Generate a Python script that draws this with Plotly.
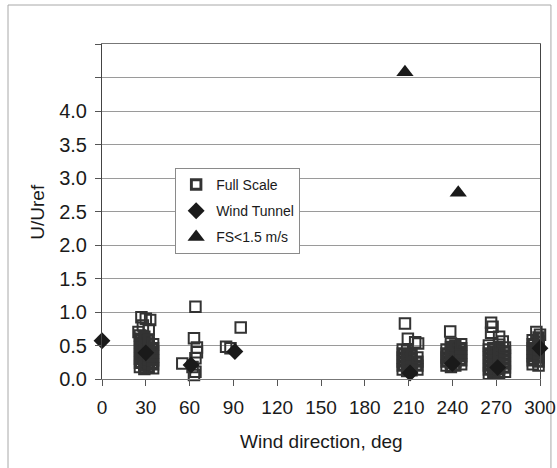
import plotly.graph_objects as go

# ---------------- data ----------------
# Full Scale measurements (wind direction, U/Uref)
fs_dir = [
    # ~30 deg (upper points)
    27, 30, 33, 28, 32, 25,
    # ~30 deg
    26, 26, 26, 26, 26, 26, 26, 26, 26,
    29, 29, 29, 29, 29, 29, 29, 29, 29,
    32, 32, 32, 32, 32, 32, 32, 32,
    35, 35, 35, 35, 35, 35, 35,
    # ~60 deg
    64, 63, 65, 65, 64, 62, 55, 64, 63,
    # ~90 deg
    85, 88, 95,
    # ~210 deg
    206, 206, 206, 206, 206, 206,
    209, 209, 209, 209, 209, 209,
    212, 212, 212, 212, 212,
    216, 216, 216, 216,
    207.5, 209.5, 214.5, 216.5,
    # ~240 deg
    236, 236, 236, 236, 236,
    239, 239, 239, 239, 239, 239, 239,
    242, 242, 242, 242, 242, 242,
    246, 246, 246, 246, 246, 246,
    238.5,
    # ~270 deg
    265, 265, 265, 265, 265, 265, 265, 265,
    268, 268, 268, 268, 268, 268, 268,
    272, 272, 272, 272, 272, 272, 272, 272,
    276, 276, 276, 276, 276, 276, 276,
    266.5, 267.5, 266.5, 272, 274.5,
    # ~300 deg
    295, 295, 295, 295, 295, 295, 295,
    299, 299, 299, 299, 299, 299, 299, 299,
    302, 302, 302, 302, 302, 302, 302,
    297.5, 300,
]
fs_u = [
    # ~30 deg (upper points)
    0.92, 0.90, 0.88, 0.80, 0.74, 0.70,
    # ~30 deg
    0.18, 0.24, 0.30, 0.36, 0.42, 0.48, 0.54, 0.60, 0.65,
    0.15, 0.21, 0.27, 0.33, 0.39, 0.45, 0.51, 0.57, 0.63,
    0.17, 0.23, 0.29, 0.35, 0.41, 0.47, 0.53, 0.59,
    0.16, 0.22, 0.28, 0.34, 0.40, 0.46, 0.52,
    # ~60 deg
    1.08, 0.61, 0.47, 0.40, 0.31, 0.18, 0.23, 0.11, 0.06,
    # ~90 deg
    0.48, 0.46, 0.77,
    # ~210 deg
    0.14, 0.20, 0.26, 0.32, 0.38, 0.44,
    0.12, 0.18, 0.24, 0.30, 0.36, 0.42,
    0.13, 0.19, 0.25, 0.31, 0.37,
    0.14, 0.20, 0.26, 0.32,
    0.83, 0.60, 0.55, 0.53,
    # ~240 deg
    0.20, 0.26, 0.32, 0.38, 0.44,
    0.18, 0.24, 0.30, 0.36, 0.42, 0.48, 0.53,
    0.20, 0.26, 0.32, 0.38, 0.44, 0.50,
    0.22, 0.28, 0.34, 0.40, 0.46, 0.52,
    0.71,
    # ~270 deg
    0.08, 0.14, 0.20, 0.26, 0.32, 0.38, 0.44, 0.50,
    0.10, 0.16, 0.22, 0.28, 0.34, 0.40, 0.46,
    0.09, 0.15, 0.21, 0.27, 0.33, 0.39, 0.45, 0.51,
    0.11, 0.17, 0.23, 0.29, 0.35, 0.41, 0.47,
    0.84, 0.78, 0.69, 0.63, 0.56,
    # ~300 deg
    0.22, 0.28, 0.34, 0.40, 0.46, 0.52, 0.58,
    0.20, 0.26, 0.32, 0.38, 0.44, 0.50, 0.56, 0.62,
    0.24, 0.30, 0.36, 0.42, 0.48, 0.54, 0.60,
    0.70, 0.66,
]

# Wind tunnel results
wt_dir = [0, 30, 61, 91, 211, 240, 271, 300]
wt_u = [0.57, 0.39, 0.21, 0.41, 0.09, 0.23, 0.17, 0.46]

# Full scale, wind speed < 1.5 m/s
low_dir = [207.5, 244]
low_u = [4.58, 2.78]

x_ticks = [0, 30, 60, 90, 120, 150, 180, 210, 240, 270, 300]
y_ticks = [0.0, 0.5, 1.0, 1.5, 2.0, 2.5, 3.0, 3.5, 4.0, 4.5, 5.0]
y_tick_text = ["0.0", "0.5", "1.0", "1.5", "2.0", "2.5", "3.0", "3.5", "4.0", "", ""]

x_title = "Wind direction, deg"
y_title = "U/Uref"

# ---------------- figure ----------------
FONT = "Liberation Sans, Arial, sans-serif"
INK = "#1a1a1a"

# overlapping open squares in crowded groups print as heavier marks
crowd = [sum(1 for x2, y2 in zip(fs_dir, fs_u) if abs(x2 - x) <= 4 and abs(y2 - y) <= 0.09)
         for x, y in zip(fs_dir, fs_u)]
sq_lw = [3.4 if n >= 6 else 2.0 for n in crowd]
sq_size = [9.0 if n >= 6 else 10.5 for n in crowd]

fig = go.Figure()
fig.add_trace(go.Scatter(
    x=fs_dir, y=fs_u, mode="markers", name="Full Scale",
    legendgroup="a",
    marker=dict(symbol="square-open", size=sq_size, color="#333333", opacity=1,
                line=dict(width=sq_lw, color="#333333")),
    cliponaxis=False,
))
fig.add_trace(go.Scatter(
    x=wt_dir, y=wt_u, mode="markers", name="Wind Tunnel",
    legendgroup="b",
    marker=dict(symbol="diamond", size=13, color="#1a1a1a", opacity=1),
    cliponaxis=False,
))
fig.add_trace(go.Scatter(
    x=low_dir, y=low_u, mode="markers", name="FS<1.5 m/s",
    legendgroup="c",
    marker=dict(symbol="triangle-up", size=15, color="#1a1a1a", opacity=1),
    cliponaxis=False,
))

fig.update_layout(
    width=557, height=468,
    margin=dict(l=102, r=17, t=44, b=89, autoexpand=False),
    paper_bgcolor="white", plot_bgcolor="white",
    font=dict(family=FONT, color=INK),
    showlegend=True,
    legend=dict(
        x=0.167, y=0.63, xanchor="left", yanchor="top",
        bgcolor="white", bordercolor="#8a8a8a", borderwidth=1,
        font=dict(size=14, family=FONT, color=INK),
        tracegroupgap=5, itemwidth=30,
    ),
    shapes=[
        dict(type="rect", xref="paper", yref="paper",
             x0=-0.2146, x1=1.025, y0=-0.35, y1=1.1164,
             line=dict(color="#a8a8a8", width=1), layer="below"),
    ],
    annotations=[
        dict(text=x_title, xref="paper", yref="paper", x=0.5, y=-0.188,
             xanchor="center", yanchor="middle", showarrow=False,
             font=dict(size=19, family=FONT, color=INK)),
        dict(text=y_title, xref="paper", yref="paper", x=-0.148, y=0.5,
             xanchor="center", yanchor="middle", showarrow=False, textangle=-90,
             font=dict(size=19, family=FONT, color=INK)),
    ],
)
fig.update_xaxes(
    range=[0, 300], tickvals=x_ticks, ticktext=[str(v) for v in x_ticks],
    ticks="outside", ticklen=6, tickcolor="#555",
    showgrid=False, zeroline=False, automargin=False,
    showline=True, linecolor="#777", linewidth=1, mirror=True,
    tickfont=dict(size=19, family=FONT, color=INK),
    ticklabelstandoff=5,
)
fig.update_yaxes(
    range=[0, 5.0], tickvals=y_ticks, ticktext=y_tick_text,
    ticks="outside", ticklen=6, tickcolor="#555",
    showgrid=True, gridcolor="#9a9a9a", gridwidth=1,
    zeroline=False, automargin=False,
    showline=True, linecolor="#444", linewidth=1, mirror=True,
    tickfont=dict(size=20, family=FONT, color=INK),
    ticklabelstandoff=4,
)

fig.write_html(
    "out.html",
    config={"displayModeBar": False},
    post_script="document.body.style.margin='0';document.body.style.overflow='hidden';",
)
